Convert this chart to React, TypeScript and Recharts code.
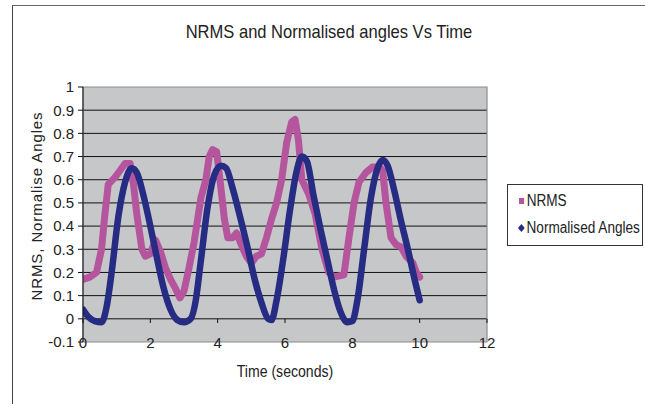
import React from 'react';
import {
  LineChart,
  Line,
  XAxis,
  YAxis,
  CartesianGrid,
  ReferenceArea,
  ReferenceLine,
} from 'recharts';

const FONT = "'Liberation Sans', Arial, sans-serif";

// NRMS (pink) - time in seconds, value
const nrmsTime = [
  0, 0.2, 0.4, 0.55, 0.65, 0.75, 0.95, 1.1, 1.25, 1.4, 1.5, 1.6, 1.75, 1.85, 2.0,
  2.15, 2.3, 2.45, 2.6, 2.75, 2.88, 3.0, 3.15, 3.3, 3.5, 3.65, 3.75, 3.85, 3.97,
  4.1, 4.2, 4.3, 4.45, 4.56, 4.7, 4.85, 5.0, 5.15, 5.3, 5.45, 5.6, 5.75, 5.9,
  6.05, 6.2, 6.3, 6.4, 6.5, 6.7, 6.9, 7.1, 7.3, 7.45, 7.75, 7.9, 8.05, 8.2, 8.4,
  8.6, 8.8, 8.9, 9.0, 9.15, 9.3, 9.45, 9.6, 9.8, 9.9, 10.0,
];
const nrmsValue = [
  0.17, 0.18, 0.2, 0.3, 0.45, 0.58, 0.61, 0.64, 0.67, 0.67, 0.58, 0.45, 0.3, 0.27,
  0.28, 0.34, 0.29, 0.22, 0.17, 0.13, 0.09, 0.12, 0.22, 0.33, 0.52, 0.6, 0.7,
  0.73, 0.72, 0.56, 0.43, 0.35, 0.35, 0.37, 0.32, 0.27, 0.24, 0.27, 0.28, 0.35,
  0.43, 0.5, 0.6, 0.76, 0.85, 0.86, 0.77, 0.6, 0.54, 0.45, 0.3, 0.2, 0.18, 0.19,
  0.35, 0.5, 0.59, 0.63, 0.655, 0.655, 0.64, 0.5, 0.35, 0.32, 0.31, 0.27, 0.24,
  0.2, 0.18,
];

// Normalised angles (blue)
const angleTime = [
  0, 0.15, 0.35, 0.55, 0.7, 0.85, 1.05, 1.25, 1.45, 1.6, 1.8, 2.0, 2.2, 2.4, 2.6,
  2.8, 3.0, 3.2, 3.35, 3.5, 3.7, 3.9, 4.1, 4.25, 4.45, 4.7, 4.9, 5.1, 5.3, 5.5,
  5.6, 5.75, 5.95, 6.15, 6.35, 6.5, 6.65, 6.85, 7.05, 7.25, 7.45, 7.65, 7.85,
  8.0, 8.15, 8.35, 8.55, 8.75, 8.9, 9.05, 9.25, 9.45, 9.65, 9.85, 10.0,
];
const angleValue = [
  0.04, 0.01, -0.01, -0.015, 0.05, 0.2, 0.44, 0.59, 0.65, 0.63, 0.53, 0.4, 0.26,
  0.13, 0.04, -0.005, -0.015, 0.0, 0.08, 0.25, 0.48, 0.62, 0.66, 0.65, 0.56, 0.42,
  0.3, 0.17, 0.07, 0.0, -0.005, 0.08, 0.26, 0.47, 0.64, 0.7, 0.68, 0.53, 0.39,
  0.26, 0.13, 0.03, -0.015, -0.01, 0.08, 0.3, 0.52, 0.65, 0.685, 0.66, 0.55, 0.42,
  0.3, 0.17, 0.08,
];

const xTicks = [0, 2, 4, 6, 8, 10, 12];
const yTicks = [-0.1, 0, 0.1, 0.2, 0.3, 0.4, 0.5, 0.6, 0.7, 0.8, 0.9, 1];
const gridValues = [0, 0.1, 0.2, 0.3, 0.4, 0.5, 0.6, 0.7, 0.8, 0.9];

const nrmsData = nrmsTime.map((t, i) => ({ t, v: nrmsValue[i] }));
const angleData = angleTime.map((t, i) => ({ t, v: angleValue[i] }));

const PINK = '#b4559e';
const BLUE = '#262b83';

function XTick(props: any) {
  const { x, y, payload } = props;
  return (
    <text x={x} y={y + 1} dy='0.35em' textAnchor='middle' fill='#222' fontSize={15} fontFamily={FONT}>
      {payload.value}
    </text>
  );
}

function YTitle() {
  return (
    <text
      x={38}
      y={206}
      transform='rotate(-90 38 206)'
      textAnchor='middle'
      dominantBaseline='middle'
      fill='#222'
      fontSize={15}
      letterSpacing={0.9}
      fontFamily={FONT}
    >
      NRMS, Normalise Angles
    </text>
  );
}

export default function App() {
  return (
    <div style={{ position: 'absolute', left: 0, top: 0, width: 645, height: 404, background: '#fff', fontFamily: FONT, overflow: 'hidden' }}>
      <div
        style={{
          position: 'absolute',
          left: 12,
          top: 5,
          width: 640,
          height: 410,
          borderTop: '1.5px solid #666',
          borderLeft: '1.5px solid #444',
        }}
      />
      <div
        style={{
          position: 'absolute',
          left: 329,
          top: 20,
          transform: 'translateX(-50%) scaleX(0.87)',
          whiteSpace: 'nowrap',
          fontSize: 19,
          color: '#222',
          lineHeight: '24px',
        }}
      >
        NRMS and Normalised angles Vs Time
      </div>
      <div
        style={{
          position: 'absolute',
          left: 285,
          top: 362,
          transform: 'translateX(-50%) scaleX(0.88)',
          whiteSpace: 'nowrap',
          fontSize: 16,
          color: '#222',
          lineHeight: '20px',
        }}
      >
        Time (seconds)
      </div>
      <div style={{ position: 'absolute', left: 0, top: 0 }}>
        <LineChart
          width={645}
          height={404}
          margin={{ top: 87, right: 158, bottom: 42, left: 0 }}
        >
          <CartesianGrid
            horizontal
            vertical={false}
            horizontalValues={gridValues}
            stroke='#111'
            fill='#c6c7c9'
            fillOpacity={1}
          />
          <ReferenceArea x1={0} x2={12} y1={-0.1} y2={1} fill='none' stroke='#8c8c8c' strokeWidth={1.2} />
          {xTicks.map((t) => (
            <ReferenceLine
              key={t}
              segment={[{ x: t, y: 0 }, { x: t, y: -0.018 }]}
              stroke='#111'
            />
          ))}
          <XAxis
            type='number'
            dataKey='t'
            domain={[0, 12]}
            ticks={xTicks}
            axisLine={false}
            tickLine={false}
            tickSize={0}
            tickMargin={0}
            height={20}
            tick={<XTick />}
            allowDataOverflow
          />
          <YAxis
            type='number'
            dataKey='v'
            domain={[-0.1, 1]}
            ticks={yTicks}
            width={83}
            axisLine={{ stroke: '#111' }}
            tickLine={{ stroke: '#111' }}
            tickSize={5}
            tickMargin={4}
            tick={{ fill: '#222', fontSize: 15, fontFamily: FONT }}
            tickFormatter={(v: number) => String(v)}
            allowDataOverflow
          />
          <Line
            data={nrmsData}
            dataKey='v'
            type='linear'
            stroke={PINK}
            strokeWidth={7}
            strokeLinejoin='round'
            strokeLinecap='round'
            dot={false}
            isAnimationActive={false}
          />
          <Line
            data={angleData}
            dataKey='v'
            type='monotone'
            stroke={BLUE}
            strokeWidth={6.5}
            strokeLinejoin='round'
            strokeLinecap='round'
            dot={false}
            isAnimationActive={false}
          />
          <YTitle />
        </LineChart>
      </div>
      <div
        style={{
          position: 'absolute',
          left: 507,
          top: 184,
          width: 136,
          height: 62,
          border: '1px solid #333',
          boxSizing: 'border-box',
          fontSize: 16,
          color: '#222',
          whiteSpace: 'nowrap',
        }}
      >
        <div style={{ position: 'absolute', left: 11, top: 7, display: 'flex', alignItems: 'center', transformOrigin: 'left center', transform: 'scaleX(0.85)' }}>
          <span style={{ display: 'inline-block', width: 6, height: 6, background: PINK, marginRight: 3 }} />
          <span>NRMS</span>
        </div>
        <div style={{ position: 'absolute', left: 10, top: 34, display: 'flex', alignItems: 'center', transformOrigin: 'left center', transform: 'scaleX(0.85)' }}>
          <svg width={8} height={8} style={{ marginRight: 2 }}>
            <polygon points='4,0 8,4 4,8 0,4' fill={BLUE} />
          </svg>
          <span>Normalised Angles</span>
        </div>
      </div>
    </div>
  );
}
